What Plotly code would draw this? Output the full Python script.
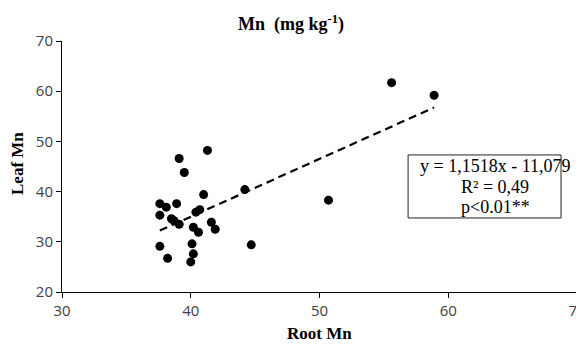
import plotly.graph_objects as go

# Data
root_mn = [55.6, 58.9, 44.2, 50.7, 44.7,
           41.3, 39.1, 39.5, 41.0, 37.6, 38.1, 38.9, 37.6, 38.5, 38.7,
           39.1, 40.4, 40.7, 41.6, 41.9, 40.2, 40.6, 37.6, 40.1, 38.2, 40.2, 40.0]
leaf_mn = [61.7, 59.2, 40.4, 38.3, 29.4,
           48.2, 46.6, 43.8, 39.4, 37.6, 36.9, 37.6, 35.3, 34.6, 34.2,
           33.5, 35.9, 36.4, 33.9, 32.5, 32.9, 31.9, 29.1, 29.6, 26.7, 27.6, 26.0]
slope = 1.1518
intercept = -11.079
eq_lines = ["y = 1,1518x - 11,079", "R² = 0,49", "p<0.01**"]
x_ticks = [30, 40, 50, 60, 70]
y_ticks = [20, 30, 40, 50, 60, 70]

xmin, xmax = min(root_mn), max(root_mn)
fit_x = [xmin, xmax]
fit_y = [slope * v + intercept for v in fit_x]

serif = "Liberation Serif"
sans = "Open Sans"

# page body has an 8px default margin; size the figure to fit inside the window
W, H = 576, 341

fig = go.Figure()
fig.add_trace(go.Scatter(x=fit_x, y=fit_y, mode="lines",
                         line=dict(color="black", width=2.2, dash="8px,5px"),
                         showlegend=False, hoverinfo="skip"))
fig.add_trace(go.Scatter(x=root_mn, y=leaf_mn, mode="markers",
                         marker=dict(color="black", size=9),
                         showlegend=False))

annotations = [
    dict(text="<b>Leaf Mn</b>", xref="paper", yref="paper", x=0, y=0.51,
         xshift=-44, textangle=-90, showarrow=False, xanchor="center", yanchor="middle",
         font=dict(family=serif, size=17, color="black")),
    dict(text="<b>Root Mn</b>", xref="paper", yref="paper", x=0.5, y=0,
         yshift=-41, showarrow=False, xanchor="center", yanchor="middle",
         font=dict(family=serif, size=17, color="black")),
]
line_y = [0.502, 0.420, 0.339]
for txt, yy in zip(eq_lines, line_y):
    annotations.append(dict(text=txt, xref="paper", yref="paper", x=0.8417, y=yy,
                            showarrow=False, xanchor="center", yanchor="middle",
                            font=dict(family=serif, size=18, color="black")))

fig.update_layout(
    width=W, height=H,
    margin=dict(l=54, r=7, t=33, b=57),
    paper_bgcolor="white", plot_bgcolor="white",
    title=dict(text="<b>Mn  (mg kg<sup>-1</sup>)</b>", x=283 / W, xref="container",
               xanchor="center", y=1 - 16 / H, yref="container", yanchor="middle",
               font=dict(family=serif, size=18, color="black")),
    xaxis=dict(range=[30, 70], tickvals=x_ticks, showgrid=False, zeroline=False,
               showline=True, linecolor="black", linewidth=1,
               ticks="outside", ticklen=5, tickcolor="black",
               tickfont=dict(family=sans, size=15, color="#404040"),
               ticklabeloverflow="allow", automargin=False),
    yaxis=dict(range=[20, 70], tickvals=y_ticks, showgrid=False, zeroline=False,
               showline=True, linecolor="black", linewidth=1,
               ticks="outside", ticklen=5, tickcolor="black",
               tickfont=dict(family=sans, size=15, color="#404040"),
               ticklabeloverflow="allow", automargin=False),
    shapes=[dict(type="rect", xref="paper", yref="paper",
                 x0=0.672, x1=0.969, y0=0.295, y1=0.546,
                 line=dict(color="#222", width=1), fillcolor="white", layer="below")],
    annotations=annotations,
)

fig.write_html("out.html")
